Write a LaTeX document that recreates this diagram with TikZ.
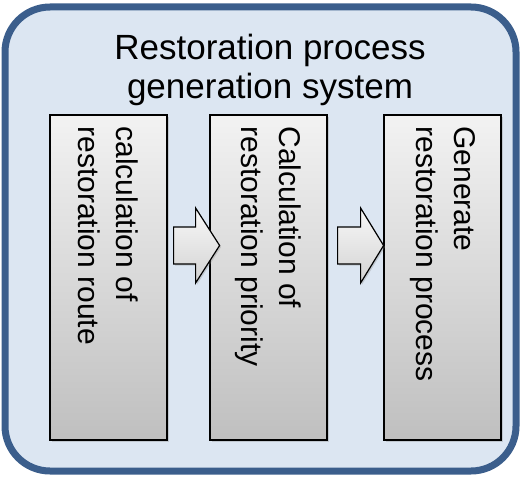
\documentclass[tikz,border=0pt]{standalone}
\usepackage{fontspec}
\setmainfont{Liberation Sans}
\usetikzlibrary{calc, shadows}

\definecolor{framecol}{HTML}{3B5E8C}
\definecolor{panelcol}{HTML}{DCE6F2}

\tikzset{
    procbox/.style={draw=black, line width=1.2pt, top color=gray!10, bottom color=gray!50,
        minimum width=117pt, minimum height=325pt, inner sep=0pt,
        drop shadow={shadow xshift=1.5pt, shadow yshift=-1.5pt, opacity=0.3}},
    proctext/.style={rotate=-90, anchor=west, align=left, inner sep=0pt,
        font=\fontsize{30}{38}\selectfont},
    blockarrow/.style={draw=black, line width=1.2pt, line join=miter, top color=gray!5, bottom color=gray!35,
        drop shadow={shadow xshift=1.5pt, shadow yshift=-1.5pt, opacity=0.3}}
}

\begin{document}
\begin{tikzpicture}[x=1pt, y=-1pt]
    \useasboundingbox (0,0) rectangle (521,476);

    % Rahmen des Systems
    \draw[draw=framecol, fill=panelcol, line width=7pt, rounded corners=45pt] (5,7) rectangle (516,471);
    \node[align=center, inner sep=0pt, font=\fontsize{35}{39}\selectfont] (title) at (270,70)
        {Restoration process\\generation system};

    % Die drei Schritte
    \node[procbox] (route) at (108.5,277.5) {};
    \node[procbox] (priority) at (268.5,277.5) {};
    \node[procbox] (generate) at (442.5,277.5) {};

    \node[proctext] (routetext) at ($(route.north)+(0,12)$) {calculation of\\restoration route};
    \node[proctext] (prioritytext) at ($(priority.north)+(0,12)$) {Calculation of\\restoration priority};
    \node[proctext] (generatetext) at ($(generate.north)+(0,12)$) {Generate\\restoration process};

    % Pfeile zwischen den Schritten
    \draw[blockarrow] ($(route.east)+(6,-50.5)$) -- ++(22,0) -- ++(0,-19) -- ++(24,37.5)
        -- ++(-24,37.5) -- ++(0,-19) -- ++(-22,0) -- cycle;
    \draw[blockarrow] ($(priority.east)+(10,-50.5)$) -- ++(23,0) -- ++(0,-19) -- ++(23,37.5)
        -- ++(-23,37.5) -- ++(0,-19) -- ++(-23,0) -- cycle;
\end{tikzpicture}
\end{document}
